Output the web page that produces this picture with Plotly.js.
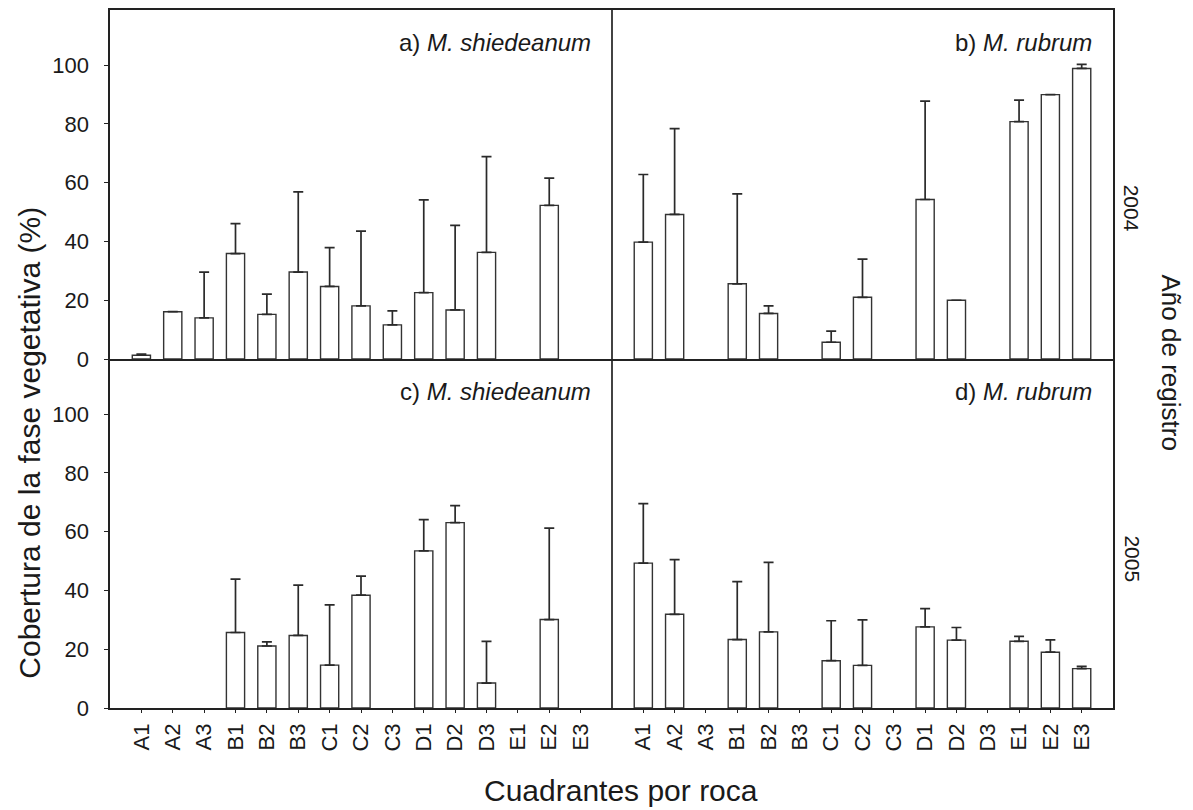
<!DOCTYPE html>
<html>
<head>
<meta charset="utf-8">
<script src="https://cdn.plot.ly/plotly-3.0.1.min.js"></script>
<style>html,body{margin:0;padding:0;background:#fff;}#chart{width:1193px;height:810px;}</style>
</head>
<body>
<div id="chart"></div>
<script>
// ---- data ----
var categories = ['A1','A2','A3','B1','B2','B3','C1','C2','C3','D1','D2','D3','E1','E2','E3'];

// a) M. shiedeanum 2004
var shied2004 = [1.3, 16.1, 14.0, 35.9, 15.2, 29.6, 24.7, 18.1, 11.6, 22.6, 16.7, 36.3, null, 52.3, null];
var shied2004Err = [0.4, 0, 15.6, 10.2, 6.9, 27.3, 13.2, 25.4, 4.8, 31.6, 28.8, 32.6, null, 9.3, null];
// b) M. rubrum 2004
var rubrum2004 = [39.8, 49.2, null, 25.6, 15.5, null, 5.7, 21.0, null, 54.3, 20.0, null, 80.8, 90.0, 98.9];
var rubrum2004Err = [23.0, 29.2, null, 30.6, 2.6, null, 3.8, 13.0, null, 33.5, 0, null, 7.3, 0, 1.4];
// c) M. shiedeanum 2005
var shied2005 = [null, null, null, 25.7, 21.1, 24.7, 14.6, 38.4, null, 53.5, 63.1, 8.5, null, 30.1, null];
var shied2005Err = [null, null, null, 18.2, 1.4, 17.1, 20.5, 6.5, null, 10.6, 5.8, 14.2, null, 31.1, null];
// d) M. rubrum 2005
var rubrum2005 = [49.3, 31.9, null, 23.3, 25.9, null, 16.1, 14.5, null, 27.6, 23.1, null, 22.7, 19.0, 13.4];
var rubrum2005Err = [20.3, 18.6, null, 19.7, 23.7, null, 13.6, 15.5, null, 6.2, 4.3, null, 1.7, 4.2, 0.8];

var yTicks = [0, 20, 40, 60, 80, 100];
var panelLabels = ['a) <i>M. shiedeanum</i>', 'b) <i>M. rubrum</i>', 'c) <i>M. shiedeanum</i>', 'd) <i>M. rubrum</i>'];
var yearLabels = ['2004', '2005'];
var xTitle = 'Cuadrantes por roca';
var yTitle = 'Cobertura de la fase vegetativa (%)';
var rightTitle = 'Año de registro';

// ---- styling ----
var FONT = 'Liberation Sans, Arial, Helvetica, sans-serif';
var INK = '#1a1a1a';
var LINE = '#222222';

function zeros(arr){ return arr.map(function(v){ return v === null ? null : 0; }); }

function barTrace(vals, errs, xa, ya){
  return {
    type: 'bar', x: categories, y: vals, xaxis: xa, yaxis: ya,
    width: 0.58,
    marker: {color: '#ffffff', line: {color: '#333333', width: 1.4}},
    error_y: {type: 'data', symmetric: false, array: errs, arrayminus: zeros(errs),
              visible: true, color: '#2a2a2a', thickness: 1.7, width: 5},
    showlegend: false, hoverinfo: 'x+y'
  };
}

var data = [
  barTrace(shied2004, shied2004Err, 'x3', 'y3'),
  barTrace(rubrum2004, rubrum2004Err, 'x4', 'y4'),
  barTrace(shied2005, shied2005Err, 'x', 'y'),
  barTrace(rubrum2005, rubrum2005Err, 'x2', 'y2')
];

var splitX = 502 / 1003;
var yRange = [0, 118.8];

function xAxis(domain, anchor, showTicks, mirror){
  return {
    domain: domain, anchor: anchor, type: 'category',
    range: [-1, 15], fixedrange: true,
    showline: true, linecolor: LINE, linewidth: 1.7, mirror: mirror,
    showgrid: false, zeroline: false,
    ticks: showTicks ? 'outside' : '', ticklen: 3, tickwidth: 1, tickcolor: LINE,
    showticklabels: showTicks, tickangle: -90, ticklabelstandoff: 2,
    tickfont: {family: FONT, size: 22, color: INK}
  };
}
function yAxis(domain, anchor, showTicks, side){
  return {
    domain: domain, anchor: anchor, range: yRange, fixedrange: true, side: side,
    tickvals: yTicks, ticktext: yTicks.map(String),
    showline: true, linecolor: LINE, linewidth: 1.7, mirror: false,
    showgrid: false, zeroline: false,
    ticks: showTicks ? 'outside' : '', ticklen: 4, tickwidth: 1, tickcolor: LINE,
    showticklabels: showTicks, ticklabelstandoff: 11,
    tickfont: {family: FONT, size: 22, color: INK}
  };
}

var annotations = [];
var panelAxes = [['x3','y3'],['x4','y4'],['x','y'],['x2','y2']];
panelAxes.forEach(function(ax, i){
  annotations.push({
    text: panelLabels[i], xref: ax[0] + ' domain', yref: ax[1] + ' domain',
    x: 1, y: 0.908, xanchor: 'right', yanchor: 'middle', xshift: -19,
    showarrow: false, font: {family: FONT, size: 24, color: INK}
  });
});
annotations.push({
  text: yearLabels[0], xref: 'paper', yref: 'paper', x: 1.0185, y: 0.716,
  textangle: 90, showarrow: false, xanchor: 'center', yanchor: 'middle',
  font: {family: FONT, size: 21, color: INK}
});
annotations.push({
  text: yearLabels[1], xref: 'paper', yref: 'paper', x: 1.0185, y: 0.2135,
  textangle: 90, showarrow: false, xanchor: 'center', yanchor: 'middle',
  font: {family: FONT, size: 21, color: INK}
});
annotations.push({
  text: rightTitle, xref: 'paper', yref: 'paper', x: 1.0578, y: 0.495,
  textangle: 90, showarrow: false, xanchor: 'center', yanchor: 'middle',
  font: {family: FONT, size: 26, color: INK}
});
annotations.push({
  text: xTitle, xref: 'paper', yref: 'paper', x: 0.5095, y: -0.1175,
  showarrow: false, xanchor: 'center', yanchor: 'middle',
  font: {family: FONT, size: 30, color: INK}
});
annotations.push({
  text: yTitle, xref: 'paper', yref: 'paper', x: -0.0798, y: 0.38,
  textangle: -90, showarrow: false, xanchor: 'center', yanchor: 'middle',
  font: {family: FONT, size: 30, color: INK}
});

var layout = {
  width: 1193, height: 810,
  margin: {l: 110, r: 80, t: 10, b: 102, pad: 0},
  paper_bgcolor: '#ffffff', plot_bgcolor: '#ffffff',
  bargap: 0.42,
  xaxis: xAxis([0, splitX], 'y', true, false),
  yaxis: yAxis([0, 0.5], 'x', true, 'left'),
  xaxis2: xAxis([splitX, 1], 'y2', true, false),
  yaxis2: yAxis([0, 0.5], 'x2', false, 'right'),
  xaxis3: xAxis([0, splitX], 'y3', false, true),
  yaxis3: yAxis([0.5, 1], 'x3', true, 'left'),
  xaxis4: xAxis([splitX, 1], 'y4', false, true),
  yaxis4: yAxis([0.5, 1], 'x4', false, 'right'),
  shapes: [{type: 'line', xref: 'paper', yref: 'paper', x0: splitX, x1: splitX, y0: 0, y1: 1,
            line: {color: LINE, width: 1.7}}],
  annotations: annotations,
  font: {family: FONT, color: INK}
};

Plotly.newPlot('chart', data, layout, {displayModeBar: false, staticPlot: true});
</script>
</body>
</html>
